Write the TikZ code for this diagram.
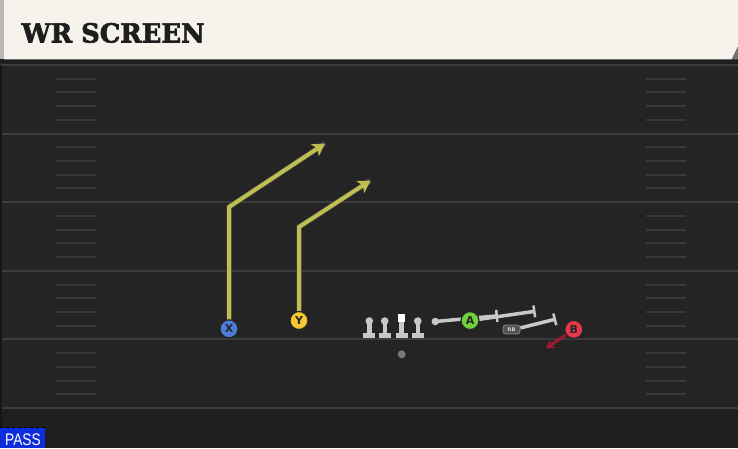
\documentclass[tikz,border=0pt]{standalone}
\usepackage{graphicx}
\usepackage{fontspec}
\usetikzlibrary{arrows.meta}
\newfontfamily\titlefont[BoldFeatures={FakeBold=2.5}]{DejaVu Serif}
\newfontfamily\labfont{DejaVu Sans}
\newfontfamily\passfont{Liberation Sans}
\definecolor{fieldcol}{RGB}{36,36,36}
\definecolor{fielddark}{RGB}{31,31,31}
\definecolor{yardcol}{RGB}{60,60,60}
\definecolor{hashcol}{RGB}{56,56,56}
\definecolor{creamcol}{RGB}{245,243,236}
\definecolor{titlecol}{RGB}{30,30,30}
\definecolor{routecol}{RGB}{190,190,82}
\definecolor{xblue}{RGB}{74,125,220}
\definecolor{yyellow}{RGB}{245,200,50}
\definecolor{agreen}{RGB}{110,210,60}
\definecolor{bred}{RGB}{230,55,75}
\definecolor{darkred}{RGB}{160,25,50}
\definecolor{olcol}{RGB}{200,200,200}
\definecolor{qbgray}{RGB}{120,120,120}
\definecolor{passblue}{RGB}{15,45,220}
\pgfdeclarelayer{bg}
\pgfdeclarelayer{mid}
\pgfsetlayers{bg,mid,main}
\begin{document}
\begin{tikzpicture}[x=1pt,y=-1pt,
  yard/.style={draw=yardcol, line width=2pt},
  hashmark/.style={draw=hashcol, line width=2pt},
  player/.style={circle, draw=black!85, line width=1.2pt, minimum size=18pt, inner sep=0pt,
    font=\labfont\bfseries\fontsize{11}{11}\selectfont, text=black!85},
  route/.style={draw=routecol, line width=4pt, line join=miter,
    -{Stealth[length=12pt,width=14pt,inset=3pt]},
    preaction={draw=black!75, line width=5.5pt, -}},
  block/.style={draw=olcol, line width=3.5pt, -{Bar[width=12pt,line width=2.5pt]}},
  redarrow/.style={draw=darkred, line width=3pt, -{Stealth[length=8pt,width=10pt,inset=2pt]}},
  lineman/.pic={
    \fill[olcol] (-2.2,0) rectangle (2.2,12.5);
    \fill[olcol] (-6,12) rectangle (6,16.5);
    \fill[olcol] (0,0) circle (3.8);
  },
  centerman/.pic={
    \fill[olcol] (-2.2,0) rectangle (2.2,12.5);
    \fill[olcol] (-6,12) rectangle (6,16.5);
    \fill[white] (-3.8,-7) rectangle (3.8,0.5);
  }
]
\useasboundingbox (0,0) rectangle (738,448);
\begin{pgfonlayer}{bg}
  \fill[fieldcol] (0,0) rectangle (738,448);
  \fill[fielddark] (0,409) rectangle (738,448);
  \foreach \i in {0,...,5} {
    \draw[yard] (0,{65+68.6*\i}) -- (738,{65+68.6*\i});
  }
  \foreach \i in {0,...,4} {
    \foreach \k in {1,...,4} {
      \draw[hashmark] (56,{65+68.6*\i+13.7*\k}) -- (96,{65+68.6*\i+13.7*\k});
      \draw[hashmark] (646,{65+68.6*\i+13.7*\k}) -- (686,{65+68.6*\i+13.7*\k});
    }
  }
  \fill[black!40!fieldcol] (0,65) rectangle (2.3,428);
  % title bar
  \fill[black!88] (0,59) rectangle (738,64);
  \fill[creamcol] (4,0) -- (738,0) -- (738,46.7) -- (731.7,59.3) -- (4,59.3) -- cycle;
  \fill[black!55] (731.7,59.3) -- (738,46.7) -- (738,59.3) -- cycle;
  \fill[black!28] (0,0) rectangle (4,59.3);
\end{pgfonlayer}

\node[anchor=base west, inner sep=0pt, text=titlecol] (title) at (21.5,42.5)
  {\resizebox{183pt}{19.5pt}{\titlefont\bfseries WR SCREEN}};

% PASS tag
\fill[passblue] (0,427.7) rectangle (45,448);
\draw[black, dashed, line width=0.7pt] (0,427.5) -- (45,427.5);
\node[anchor=base west, inner sep=0pt, text=white] (pass) at (5,445)
  {\resizebox{35.5pt}{11.7pt}{\passfont PASS}};

% offensive line
\pic at (369.3,321) {lineman};
\pic at (384.7,321) {lineman};
\pic at (401.5,321) {centerman};
\pic at (417.8,321) {lineman};
\node[circle, fill=olcol, minimum size=7.5pt, inner sep=0pt] (RT) at (435.3,321.5) {};

% QB
\node[circle, fill=qbgray, minimum size=8pt, inner sep=0pt] (QB) at (401.7,354.3) {};

% RB badge
\node[rounded corners=2.5pt, fill=black!68, draw=black!45, line width=0.6pt,
  minimum width=17pt, minimum height=9pt, inner sep=0pt,
  font=\labfont\bfseries\fontsize{5}{5}\selectfont, text=black!15] (RB) at (511.5,329.5) {RB};

% players
\node[player, fill=xblue] (X) at (229,328.8) {X};
\node[player, fill=yyellow] (Y) at (299,320.5) {Y};
\node[player, fill=agreen] (A) at (470,320.6) {A};
\node[player, fill=bred] (B) at (573.8,329.4) {B};

\coordinate (xc) at (229,207);
\coordinate (xt) at (325,143.5);
\coordinate (yc) at (299,227);
\coordinate (yt) at (370.5,180.5);
\coordinate (rtend) at (498,315.8);
\coordinate (aend) at (535.5,311.2);
\coordinate (rbend) at (556,319);
\coordinate (bt) at (546,348.3);

\begin{pgfonlayer}{mid}
  \draw[route] (X.center) -- (xc) -- (xt);
  \draw[route] (Y.center) -- (yc) -- (yt);
  \draw[block] (RT.center) -- (rtend);
  \draw[block] (A.center) -- (aend);
  \draw[block] (RB.10) -- (rbend);
  \draw[redarrow] (B.center) -- (bt);
\end{pgfonlayer}
\end{tikzpicture}
\end{document}
